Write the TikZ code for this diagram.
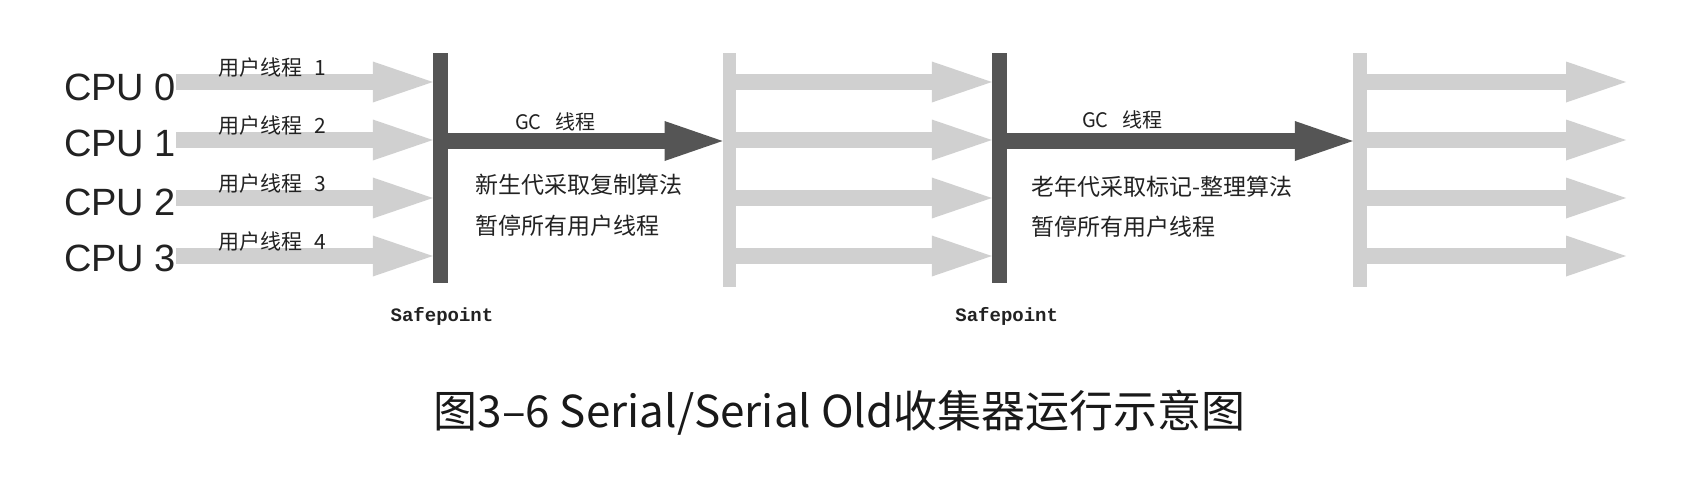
\documentclass[tikz,border=0pt]{standalone}
\usepackage{fontspec}
\setmainfont{Liberation Sans}
\newfontfamily\cjk{Noto Sans CJK SC}
\newfontfamily\monof{Liberation Mono}
\usetikzlibrary{arrows.meta}
\definecolor{lightg}{HTML}{D0D0D0}
\definecolor{darkg}{HTML}{555555}
\definecolor{txt}{HTML}{222222}
\begin{document}
\begin{tikzpicture}[x=1pt,y=-1pt,
  darkbar/.style={fill=darkg, draw=none, inner sep=0pt, minimum width=15pt, minimum height=230pt},
  lightbar/.style={fill=lightg, draw=none, inner sep=0pt, minimum width=14pt, minimum height=234pt},
  userarrow/.style={draw=lightg, line width=16pt, -{Triangle[length=60pt 0 0, width=41pt 0 0, line width=0pt]}},
  gcarrow/.style={draw=darkg, line width=16.5pt, -{Triangle[length=58pt 0 0, width=40pt 0 0, line width=0pt]}},
  cpulabel/.style={anchor=base west, inner sep=0pt, text=txt, font=\fontsize{38}{38}\selectfont},
  thlabel/.style={anchor=west, inner sep=0pt, text=txt, font=\cjk\fontsize{21}{21}\selectfont},
  gclabel/.style={anchor=west, inner sep=0pt, text=txt, font=\cjk\fontsize{20}{20}\selectfont},
  desclabel/.style={anchor=west, inner sep=0pt, text=txt, font=\cjk\fontsize{23}{23}\selectfont},
  splabel/.style={anchor=center, inner sep=0pt, text=txt, font=\monof\bfseries\fontsize{19}{19}\selectfont},
  caption/.style={anchor=west, inner sep=0pt, text=black!90, font=\cjk\fontsize{44}{44}\selectfont}
]
\useasboundingbox (0,0) rectangle (1684,488);
\fill[white] (0,0) rectangle (1684,488);

% rows
\coordinate (r0) at (0,82);
\coordinate (r1) at (0,140);
\coordinate (r2) at (0,198);
\coordinate (r3) at (0,256);
\coordinate (g) at (0,141);

% bars
\node[darkbar] (bar1) at (440.5,168) {};
\node[lightbar, minimum width=13.5pt] (lbar2) at (729.5,170) {};
\node[darkbar] (bar2) at (999.5,168) {};
\node[lightbar] (lbar3) at (1360,170) {};

% CPU labels
\node[cpulabel] (cpu0) at (64,100.7) {CPU 0};
\node[cpulabel] (cpu1) at (64,156.7) {CPU 1};
\node[cpulabel] (cpu2) at (64,215) {CPU 2};
\node[cpulabel] (cpu3) at (64,271.7) {CPU 3};

% end coordinates
\coordinate (e0) at (1626,82);
\coordinate (e1) at (1626,140);
\coordinate (e2) at (1626,198);
\coordinate (e3) at (1626,256);

% user thread arrows, segment 1
\draw[userarrow] (cpu0.east |- r0) -- (bar1.west |- r0);
\draw[userarrow] (cpu1.east |- r1) -- (bar1.west |- r1);
\draw[userarrow] (cpu2.east |- r2) -- (bar1.west |- r2);
\draw[userarrow] (cpu3.east |- r3) -- (bar1.west |- r3);
% segment 2
\draw[userarrow] (lbar2.east |- r0) -- (bar2.west |- r0);
\draw[userarrow] (lbar2.east |- r1) -- (bar2.west |- r1);
\draw[userarrow] (lbar2.east |- r2) -- (bar2.west |- r2);
\draw[userarrow] (lbar2.east |- r3) -- (bar2.west |- r3);
% segment 3
\draw[userarrow] (lbar3.east |- r0) -- (e0);
\draw[userarrow] (lbar3.east |- r1) -- (e1);
\draw[userarrow] (lbar3.east |- r2) -- (e2);
\draw[userarrow] (lbar3.east |- r3) -- (e3);

% GC arrows
\draw[gcarrow] (bar1.east |- g) -- (lbar2.west |- g);
\draw[gcarrow] (bar2.east |- g) -- (lbar3.west |- g);

% thread labels
\node[thlabel] (t1) at (218,68) {用户线程\hspace{12pt}1};
\node[thlabel] (t2) at (218,126) {用户线程\hspace{12pt}2};
\node[thlabel] (t3) at (218,183.5) {用户线程\hspace{12pt}3};
\node[thlabel] (t4) at (218,241.5) {用户线程\hspace{12pt}4};

\node[gclabel] (gc1) at (515,121.5) {GC\hspace{14pt}线程};
\node[gclabel] (gc2) at (1082,120) {GC\hspace{14pt}线程};

\node[desclabel] (d1a) at (475,185) {新生代采取复制算法};
\node[desclabel] (d1b) at (475,226) {暂停所有用户线程};
\node[desclabel] (d2a) at (1031.7,186.7) {老年代采取标记-整理算法};
\node[desclabel] (d2b) at (1031.7,226.7) {暂停所有用户线程};

\node[splabel] (sp1) at (442,316) {Safepoint};
\node[splabel] (sp2) at (1006.7,316) {Safepoint};

\node[caption] (cap) at (433.5,413) {图3–6 Serial/Serial Old收集器运行示意图};
\end{tikzpicture}
\end{document}
